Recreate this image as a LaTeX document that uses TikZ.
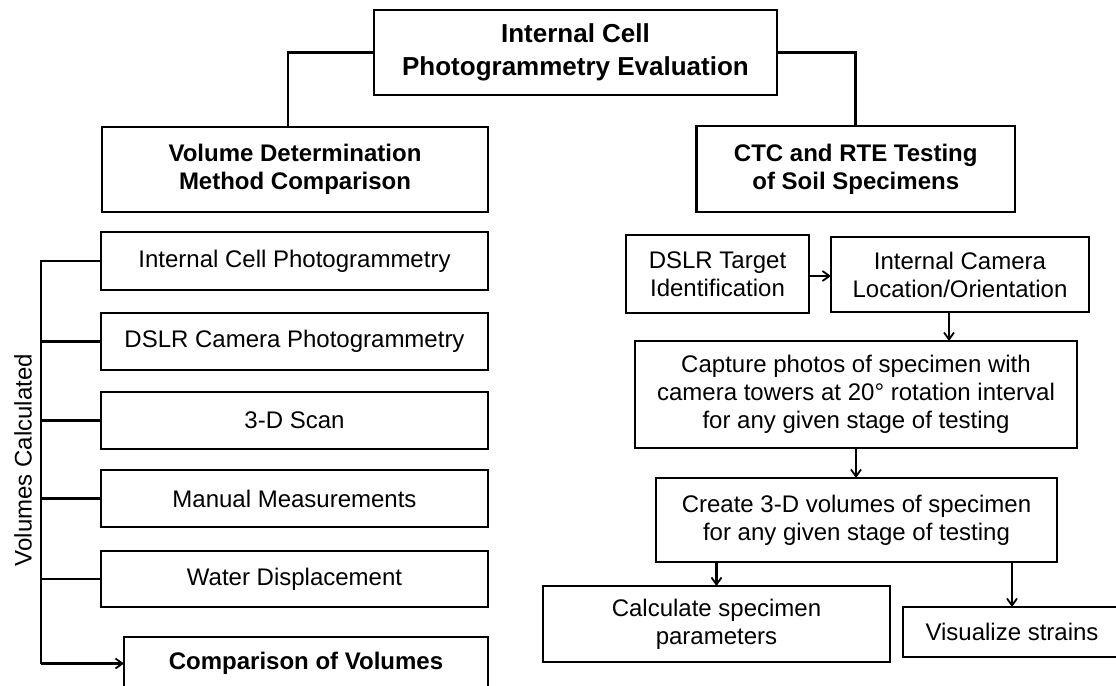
\documentclass[tikz,border=0pt]{standalone}
\usepackage{fontspec}
\setmainfont{Liberation Sans}
\usetikzlibrary{arrows.meta}
\begin{document}
\begin{tikzpicture}[x=0.5pt,y=-0.5pt,
  box/.style={draw, line width=1.4pt, align=center, inner sep=0pt, outer sep=0pt,
    font=\fontsize{12}{14}\selectfont},
  hbox/.style={box, font=\fontsize{12}{14}\selectfont\bfseries},
  tbox/.style={box, font=\fontsize{13}{16.5}\selectfont\bfseries},
  conn/.style={line width=1.3pt},
  arr/.style={conn, -{Straight Barb[length=3.5pt,width=5pt,line width=0.9pt]}},
  lbl/.style={font=\fontsize{12}{14}\selectfont, inner sep=0pt}
]
\useasboundingbox (0,0) rectangle (1116,686);
\begin{scope}
\clip (0,0) rectangle (1116,686);
% top
\node[tbox, minimum width=201.5pt, minimum height=42.5pt] (top) at (575.5,52.5) {Internal Cell\\Photogrammetry Evaluation};
\node[hbox, minimum width=193pt, minimum height=42.5pt] (vol) at (295,169.5) {Volume Determination\\Method Comparison};
\node[hbox, minimum width=159.25pt, minimum height=43pt] (ctc) at (855.75,169) {CTC and RTE Testing\\of Soil Specimens};
% left items
\node[box, minimum width=193.5pt, minimum height=29pt] (i1) at (294.5,261) {Internal Cell Photogrammetry};
\node[box, minimum width=193.5pt, minimum height=28.5pt] (i2) at (294.5,341.5) {DSLR Camera Photogrammetry};
\node[box, minimum width=193.5pt, minimum height=28.5pt] (i3) at (294.5,420.5) {3-D Scan};
\node[box, minimum width=193.5pt, minimum height=28.5pt] (i4) at (294.5,498.5) {Manual Measurements};
\node[box, minimum width=193.5pt, minimum height=28pt] (i5) at (294.5,579) {Water Displacement};
\node[hbox, minimum width=182pt, minimum height=26.5pt] (cmp) at (306,663.5) {Comparison of Volumes};
\node[lbl, rotate=90] (vc) at (23,460) {Volumes Calculated};
% right items
\node[box, minimum width=91.5pt, minimum height=39pt] (dslr) at (717.5,274) {DSLR Target\\Identification};
\node[box, minimum width=129pt, minimum height=37.5pt] (icl) at (960,274.5) {Internal Camera\\Location/Orientation};
\node[box, minimum width=221pt, minimum height=53.5pt] (cap) at (856,394.5) {Capture photos of specimen with\\camera towers at 20° rotation interval\\for any given stage of testing};
\node[box, minimum width=200.5pt, minimum height=42pt] (cre) at (856.5,520) {Create 3-D volumes of specimen\\for any given stage of testing};
\node[box, minimum width=173.5pt, minimum height=38pt] (calc) at (716.5,624) {Calculate specimen\\parameters};
\node[box, minimum width=109pt, minimum height=25pt] (vis) at (1012,632) {Visualize strains};
% connectors top
\draw[conn] (top.west) -| ([xshift=-3.5pt]vol.north);
\draw[conn] (top.east) -| (ctc.north);
% left bus
\coordinate (bt) at (41,261);
\coordinate (bb) at (41,663.5);
\draw[conn] (i1.west) -- (bt) -- (bb);
\draw[conn] (i2.west) -- (i2.west -| bt);
\draw[conn] (i3.west) -- (i3.west -| bt);
\draw[conn] (i4.west) -- (i4.west -| bt);
\draw[conn] (i5.west) -- (i5.west -| bt);
\draw[arr] (bb) -- (cmp.west);
% right arrows
\draw[arr] (dslr.east |- 0,276) -- (icl.west |- 0,276);
\draw[arr] ([xshift=-5.5pt]icl.south) -- ([xshift=-5.5pt]icl.south |- cap.north);
\draw[arr] (cap.south) -- (cap.south |- cre.north);
\draw[arr] (cre.south -| calc.north) -- (calc.north);
\draw[arr] (cre.south -| vis.north) -- (vis.north);
\end{scope}
\end{tikzpicture}
\end{document}
